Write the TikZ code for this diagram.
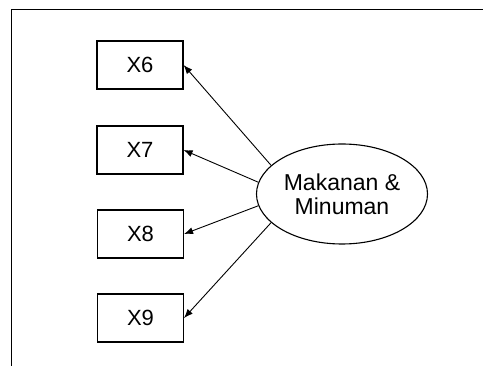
\documentclass[tikz,border=0pt]{standalone}
\usepackage{fontspec}
\setmainfont{Liberation Sans}
\usetikzlibrary{shapes.geometric,arrows.meta}
\begin{document}
\begin{tikzpicture}[x=1pt,y=-1pt,
  ind/.style={draw,line width=1.1pt,minimum width=86pt,minimum height=48pt,inner sep=0pt,font=\fontsize{22}{24}\selectfont},
  lat/.style={draw,ellipse,line width=1.1pt,minimum width=171pt,minimum height=100pt,inner sep=0pt,align=center,font=\fontsize{23}{24}\selectfont},
  load/.style={line width=0.9pt,-{Latex[length=9pt,width=7pt]}}]
\useasboundingbox (0,0) rectangle (483,374);
% frame
\draw[line width=1.4pt] (483,9.5) -- (11.5,9.5) -- (11.5,366);
% indicators
\node[ind] (x6) at (140,65) {X6};
\node[ind] (x7) at (140,150) {X7};
\node[ind] (x8) at (140.5,234) {X8};
\node[ind] (x9) at (140.5,318) {X9};
% latent variable
\node[lat] (f) at (342,194) {Makanan \&\\Minuman};
% loadings
\draw[load] (f.158.7) -- (x6.east);
\draw[load] (f.172.5) -- (x7.east);
\draw[load] (f.188.8) -- (x8.east);
\draw[load] (f.202.6) -- (x9.east);
\end{tikzpicture}
\end{document}
